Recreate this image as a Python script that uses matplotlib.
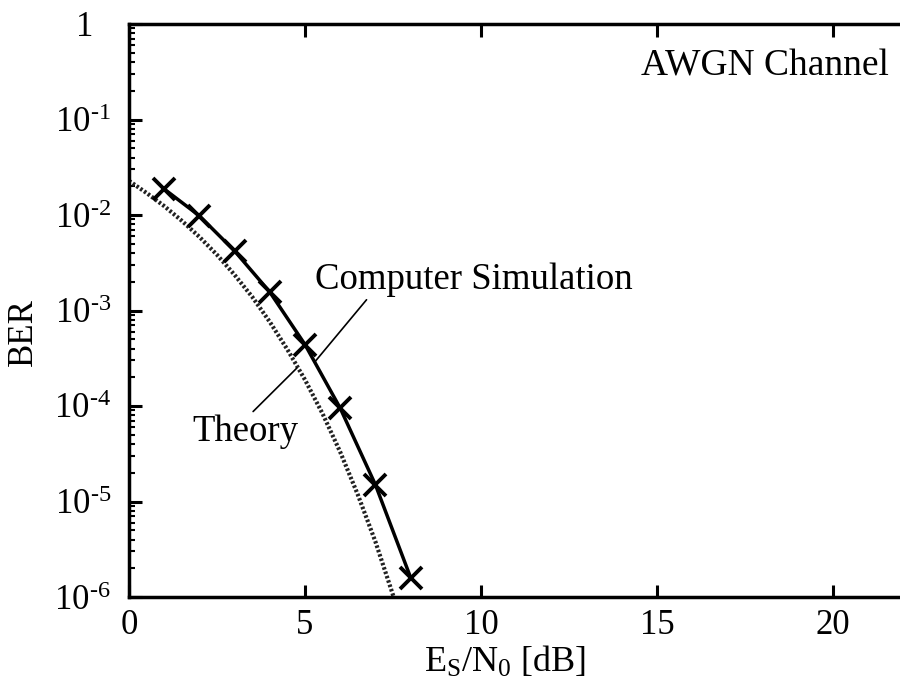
import numpy as np
import matplotlib.pyplot as plt
from matplotlib.ticker import FixedLocator, FixedFormatter, LogLocator, NullFormatter

plt.rcParams['font.family'] = ['Liberation Serif', 'DejaVu Serif']
plt.rcParams['mathtext.fontset'] = 'custom'
plt.rcParams['mathtext.rm'] = 'Liberation Serif'
plt.rcParams['mathtext.it'] = 'Liberation Serif:italic'

# simulated BER (markers)
sim_snr = [1, 2, 3, 4, 5, 6, 7, 8]
sim_ber = [1.87e-2, 9.8e-3, 4.2e-3, 1.56e-3, 4.4e-4, 9.5e-5, 1.5e-5, 1.6e-6]

# theory curve
th_snr = [0, 0.5, 1, 1.5, 2, 2.5, 3, 3.5, 4, 4.5, 5, 5.5, 6, 6.5, 7, 7.5, 7.6]
th_ber = [2.28e-2, 1.70e-2, 1.24e-2, 8.7e-3, 5.9e-3, 3.83e-3, 2.36e-3, 1.39e-3,
          7.6e-4, 3.9e-4, 1.88e-4, 8.3e-5, 3.3e-5, 1.18e-5, 3.8e-6, 1.05e-6, 8.0e-7]

x_ticks = [0, 5, 10, 15, 20]
y_ticks = [1e-6, 1e-5, 1e-4, 1e-3, 1e-2, 1e-1, 1]
y_labels = ['$\\mathregular{10^{\u20106}}$', '$\\mathregular{10^{\u20105}}$',
            '$\\mathregular{10^{\u20104}}$', '$\\mathregular{10^{\u20103}}$',
            '$\\mathregular{10^{\u20102}}$', '$\\mathregular{10^{\u20101}}$',
            '1\u2007']

fig = plt.figure(figsize=(9, 6.84), dpi=100)
# axes run past the right edge of the picture, as in the cropped original
ax = fig.add_axes([129/900, 1 - 597/684, 880/900, 573/684])

ax.plot(th_snr, th_ber, color='#222222', lw=3, linestyle=(0, (0.6, 0.5)))
ax.plot(sim_snr, sim_ber, color='black', lw=2.5, marker='x', ms=16, mew=2.8)

ax.set_yscale('log')
ax.set_xlim(0, 25)
ax.set_ylim(1e-6, 1)

ax.xaxis.set_major_locator(FixedLocator(x_ticks))
ax.yaxis.set_major_locator(FixedLocator(y_ticks))
ax.yaxis.set_major_formatter(FixedFormatter(y_labels))
ax.yaxis.set_minor_locator(LogLocator(base=10, subs=np.arange(2, 10), numticks=20))
ax.yaxis.set_minor_formatter(NullFormatter())

ax.tick_params(which='major', direction='in', length=9, width=2.2, labelsize=25,
               top=True, right=True)
ax.tick_params(axis='y', which='major', pad=13)
ax.tick_params(axis='x', which='major', pad=9)
ax.tick_params(which='minor', direction='in', length=4, width=1.5, right=True)
for sp in ax.spines.values():
    sp.set_linewidth(2.5)

ax.set_xlabel(r'$\mathregular{E_S/N_0}$ [dB]', fontsize=26, labelpad=2, x=0.427)
ax.set_ylabel('BER', fontsize=25, labelpad=10, y=0.462)

ax.text(21.6, 0.365, 'AWGN Channel', fontsize=27, ha='right', va='center')

ax.annotate('Computer Simulation', xy=(5.28, 2.9e-4), xytext=(5.28, 2.1e-3),
            fontsize=26.5, ha='left', va='center',
            arrowprops=dict(arrowstyle='-', lw=1.2, color='black',
                            shrinkA=0, shrinkB=0,
                            relpos=(0.17, 0.0)))
ax.annotate('Theory', xy=(4.77, 2.5e-4), xytext=(1.79, 5.4e-5),
            fontsize=26.5, ha='left', va='center',
            arrowprops=dict(arrowstyle='-', lw=1.2, color='black',
                            shrinkA=0, shrinkB=0,
                            relpos=(0.55, 1.0)))

fig.savefig('out.png', dpi=100)
